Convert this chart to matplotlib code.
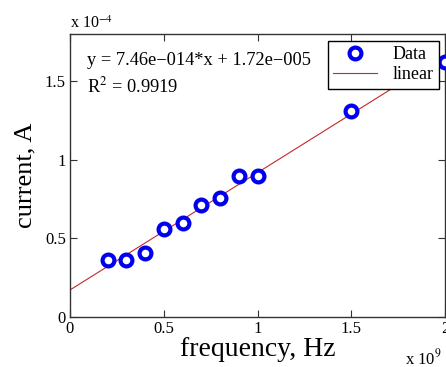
import matplotlib
matplotlib.use("Agg")
import matplotlib.pyplot as plt
from matplotlib.ticker import FuncFormatter

plt.rcParams["font.family"] = ["Liberation Serif", "DejaVu Serif"]
plt.rcParams["mathtext.fontset"] = "stix"

# measured points (Hz, A)
frequency = [0.2e9, 0.3e9, 0.4e9, 0.5e9, 0.6e9, 0.7e9, 0.8e9, 0.9e9, 1.0e9, 1.5e9, 2.0e9]
current = [0.36e-4, 0.36e-4, 0.41e-4, 0.56e-4, 0.60e-4, 0.71e-4, 0.76e-4, 0.90e-4, 0.90e-4, 1.31e-4, 1.62e-4]

# linear fit reported on the chart
slope = 7.46e-14
intercept = 1.72e-5
fit_x = [0.0, 2.0e9]

x_ticks = [0, 0.5e9, 1.0e9, 1.5e9, 2.0e9]
y_ticks = [0, 0.5e-4, 1.0e-4, 1.5e-4]

fig = plt.figure(figsize=(4.46, 3.67), dpi=100)
ax = fig.add_axes([70 / 446, 50 / 367, 375 / 446, 283 / 367])

fit_y = [slope * x + intercept for x in fit_x]
ax.plot(fit_x, fit_y, color="#c62828", linewidth=0.8, label="linear", zorder=2)
ax.plot(frequency, current, linestyle="none", marker="o", markersize=8.5,
        markerfacecolor="white", markeredgecolor="#0000ee", markeredgewidth=3,
        label="Data", zorder=3, clip_on=False)

ax.set_xlim(0, 2.0e9)
ax.set_ylim(0, 1.8e-4)
ax.set_xticks(x_ticks)
ax.set_yticks(y_ticks)
ax.xaxis.set_major_formatter(FuncFormatter(lambda v, _: f"{v / 1e9:g}"))
ax.yaxis.set_major_formatter(FuncFormatter(lambda v, _: f"{v / 1e-4:g}"))
ax.tick_params(direction="in", top=True, right=True, labelsize=12,
               length=5, width=0.8, color="#333333", pad=3)
# the right-most x tick label sits on the figure edge and is cut, as in the original
for s in ax.spines.values():
    s.set_color("#333333")
    s.set_linewidth(1.0)

ax.set_xlabel("frequency, Hz", fontsize=20, labelpad=0)
ax.set_ylabel("current, A", fontsize=19, labelpad=6)

ax.text(0.045, 0.905, "y = 7.46e\u2212014*x + 1.72e\u2212005", transform=ax.transAxes,
        fontsize=13.2, va="center", ha="left")
ax.text(0.045, 0.815, r"R$^2$ = 0.9919", transform=ax.transAxes,
        fontsize=13.2, va="center", ha="left")

fig.text(70 / 446, 1 - 24 / 367, r"x 10$^{-4}$", fontsize=11.5, ha="left", va="center")
fig.text(405 / 446, 1 - 358 / 367, r"x 10$^{9}$", fontsize=12, ha="left", va="center")

handles, labels = ax.get_legend_handles_labels()
leg = ax.legend(handles[::-1], labels[::-1], loc="upper right",
                bbox_to_anchor=(0.985, 0.975), fontsize=13, frameon=True,
                fancybox=False, edgecolor="black", framealpha=1,
                borderpad=0.3, handlelength=2.4, handletextpad=0.9,
                labelspacing=0.15, borderaxespad=0)
leg.get_frame().set_linewidth(1.0)

fig.savefig("out.png", dpi=100)
